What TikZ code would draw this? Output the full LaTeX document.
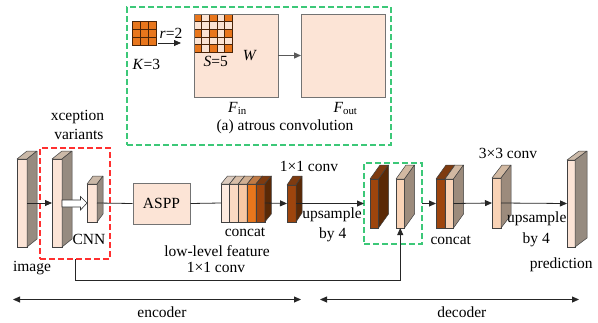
\documentclass[tikz,border=0pt]{standalone}
\usepackage{fontspec}
\setmainfont{Liberation Serif}
\usetikzlibrary{arrows.meta}
\definecolor{pf}{HTML}{FCE4D6}\definecolor{ps}{HTML}{968B80}\definecolor{pt}{HTML}{CBB9A8}
\definecolor{lf}{HTML}{F9D3B6}\definecolor{ls}{HTML}{9C8B7C}\definecolor{lt}{HTML}{D2B9A2}
\definecolor{brf}{HTML}{9E450D}\definecolor{brs}{HTML}{5A2906}\definecolor{brt}{HTML}{7E3B10}
\definecolor{cAf}{HTML}{FDEBE0}\definecolor{cAt}{HTML}{DCCBBE}\definecolor{cAs}{HTML}{968B80}
\definecolor{cBf}{HTML}{FAD9C2}\definecolor{cBt}{HTML}{D8BEA8}\definecolor{cBs}{HTML}{968B80}
\definecolor{cCf}{HTML}{F7C7A3}\definecolor{cCt}{HTML}{D0AF92}\definecolor{cCs}{HTML}{968B80}
\definecolor{cDf}{HTML}{E8761C}\definecolor{cDt}{HTML}{C07A45}\definecolor{cDs}{HTML}{968B80}
\definecolor{orng}{HTML}{E8761C}\definecolor{gridln}{HTML}{4A2408}
\definecolor{gbox}{HTML}{3CC878}\definecolor{rbox}{HTML}{FF3030}
\definecolor{cell}{HTML}{FBE3D3}
\tikzset{
  slabface/.style={draw=black!75, line width=0.5pt, inner sep=0pt, outer sep=0pt},
  facedraw/.style={draw=black!75, line width=0.5pt, line join=round},
  lab/.style={font=\fontsize{15.5}{17}\selectfont, inner sep=0pt, text height=11pt, text depth=3.5pt},
  conn/.style={draw=black!85, line width=0.8pt},
  arr/.style={conn, -{Triangle[length=7pt,width=6pt]}},
  greenbox/.style={draw=gbox, line width=1.2pt, dash pattern=on 6pt off 3pt, inner sep=0pt, outer sep=0pt},
  redbox/.style={draw=rbox, line width=1.2pt, dash pattern=on 6pt off 3pt, inner sep=0pt, outer sep=0pt},
  bigsq/.style={draw=black!55, line width=1pt, fill=pf, inner sep=0pt, outer sep=0pt, minimum width=84pt, minimum height=83pt},
}
\newcommand{\myslab}[8]{%
  \node[slabface, fill=#8f, minimum width={#4-#2}, minimum height={#5-#3}] (#1) at ({(#2+#4)/2},{(#3+#5)/2}) {};
  \filldraw[facedraw, fill=#8t] (#1.north west) -- ++(#6,-#7) -- ++({#4-#2},0) -- (#1.north east) -- cycle;
  \filldraw[facedraw, fill=#8s] (#1.north east) -- ++(#6,-#7) -- ++(0,{#5-#3}) -- (#1.south east) -- cycle;
}
\begin{document}
\begin{tikzpicture}[x=1pt,y=-1pt]
\useasboundingbox (0,0) rectangle (598,322);
% ---------- top: atrous convolution ----------
\node[greenbox, minimum width=264pt, minimum height=138pt] (topbox) at (259,76) {};
\node[draw=gridln, line width=0.8pt, fill=orng, inner sep=0pt, outer sep=0pt, minimum width=24pt, minimum height=24pt] (kern) at (144,33) {};
\foreach \i in {1,2} {
  \draw[gridln, line width=0.8pt] ({132+8*\i},21) -- ({132+8*\i},45);
  \draw[gridln, line width=0.8pt] (132,{21+8*\i}) -- (156,{21+8*\i});
}
\node[lab] (klab) at (146.3,65.3) {\textit{K}=3};
\node[lab] (rlab) at (171,34.3) {\textit{r}=2};
\coordinate (ra) at (158,43);
\coordinate (rb) at (181,43);
\draw[arr] (ra) -- (rb);
\node[bigsq] (fin) at (236,55.5) {};
\node[bigsq] (fout) at (343,55.5) {};
\foreach \i in {0,...,4} {
  \foreach \j in {0,...,4} {
    \pgfmathsetmacro{\iseven}{(mod(\i,2)==0 && mod(\j,2)==0) ? 1 : 0}
    \ifnum\iseven=1
      \fill[orng] ({194+7.7*\i},{14+7.7*\j}) rectangle ++(7.7,7.7);
    \else
      \fill[cell] ({194+7.7*\i},{14+7.7*\j}) rectangle ++(7.7,7.7);
    \fi
  }
}
\foreach \i in {0,...,5} {
  \draw[gridln, line width=0.8pt] ({194+7.7*\i},14) -- ({194+7.7*\i},52.5);
  \draw[gridln, line width=0.8pt] (194,{14+7.7*\i}) -- (232.5,{14+7.7*\i});
}
\draw[black!55, line width=1pt] (fin.north west) rectangle (fin.south east);
\node[lab] (slab) at (215.8,62.3) {\textit{S}=5};
\node[lab] (wlab) at (250,56.3) {\textit{W}};
\draw[draw=black!65, line width=1.3pt, -{Triangle[length=7pt,width=6pt]}] (fin.east) -- (fout.west);
\node[lab] (finl) at (237.5,109) {\textit{F}\textsubscript{in}};
\node[lab] (foutl) at (345.5,109) {\textit{F}\textsubscript{out}};
\node[lab] (cap) at (285,127) {(a) atrous convolution};
% ---------- main row ----------
\node[redbox, minimum width=70pt, minimum height=111pt] (rbx) at (75,203.5) {};
\node[greenbox, minimum width=58pt, minimum height=81pt] (gbx) at (393,203.5) {};
\myslab{image}{17}{159}{27}{247}{10}{8}{p}
\myslab{xcep}{52}{159}{62}{247}{10}{8}{p}
\myslab{cnn}{87}{184}{97}{222}{6}{8}{p}
\node[draw=black!55, line width=1pt, fill=pf, inner sep=0pt, minimum width=57pt, minimum height=41pt, font=\fontsize{15.5}{17}\selectfont] (aspp) at (161.5,203.5) {ASPP};
\myslab{ca}{221}{184}{229.5}{222}{6.5}{8}{cA}
\myslab{cb}{229.5}{184}{238.3}{222}{6.5}{8}{cB}
\myslab{cc}{238.3}{184}{247.2}{222}{6.5}{8}{cC}
\myslab{cd}{247.2}{184}{256}{222}{6.5}{8}{cD}
\myslab{ce}{256}{184}{264.8}{222}{6.5}{8}{br}
\myslab{convA}{287}{185}{296}{222}{6}{9}{br}
\myslab{upA}{370}{179}{378.5}{228}{10}{14}{br}
\myslab{low}{396}{179}{404.5}{228}{10}{14}{l}
\myslab{cfa}{436}{179}{445}{228}{10}{14}{br}
\myslab{cfb}{445}{179}{453.5}{228}{10}{14}{l}
\myslab{convB}{492}{178}{501}{228}{10}{13}{l}
\myslab{pred}{567}{160}{575}{247}{12}{9}{p}
% white arrow
\filldraw[draw=black!80, fill=white, line width=0.6pt, line join=miter] (xcep.east |- 0,200) -- (80.5,200) -- (80.5,196.5) -- (cnn.west) -- (80.5,210) -- (80.5,207) -- (xcep.east |- 0,207) -- cycle;
% connectors
\draw[arr] (image.east) -- (xcep.west);
\draw[conn] (cnn.east) -- (aspp.west);
\draw[conn] (aspp.east) -- (ca.west);
\draw[arr] (ce.east) -- (convA.west);
\draw[arr] (convA.east) -- (gbx.west);
\draw[arr] (gbx.east) -- (cfa.west);
\draw[arr] (cfb.east) -- (convB.west);
\draw[arr] (convB.east) -- (pred.west);
\draw[arr] (rbx.south) -- ++(0,21) -| (low.south);
% labels
\node[lab] (xl1) at (77.5,117) {xception};
\node[lab] (xl2) at (78.8,136) {variants};
\node[lab] (cnnl) at (89,240.5) {CNN};
\node[lab] (imgl) at (32,267.5) {image};
\node[lab] (catl) at (245,232.7) {concat};
\node[lab] (c11) at (309,167.7) {1×1 conv};
\node[lab] (up1) at (332,214.7) {upsample};
\node[lab] (by1) at (332.7,234.5) {by 4};
\node[lab] (llf) at (217,252.7) {low-level feature};
\node[lab] (c12) at (216,268.7) {1×1 conv};
\node[lab] (c33) at (508,154.3) {3×3 conv};
\node[lab] (cat2) at (450.8,240.3) {concat};
\node[lab] (up2) at (536.7,219) {upsample};
\node[lab] (by2) at (536.3,239.3) {by 4};
\node[lab] (predl) at (561.3,264.3) {prediction};
% encoder / decoder
\coordinate (ea) at (13,299.5);
\coordinate (eb) at (301,299.5);
\coordinate (da) at (320,299.5);
\coordinate (db) at (579,299.5);
\draw[conn, {Triangle[length=7pt,width=6pt]}-{Triangle[length=7pt,width=6pt]}] (ea) -- (eb);
\draw[conn, {Triangle[length=7pt,width=6pt]}-{Triangle[length=7pt,width=6pt]}] (da) -- (db);
\node[lab] (encl) at (162,314) {encoder};
\node[lab] (decl) at (461.8,314) {decoder};
\end{tikzpicture}
\end{document}
